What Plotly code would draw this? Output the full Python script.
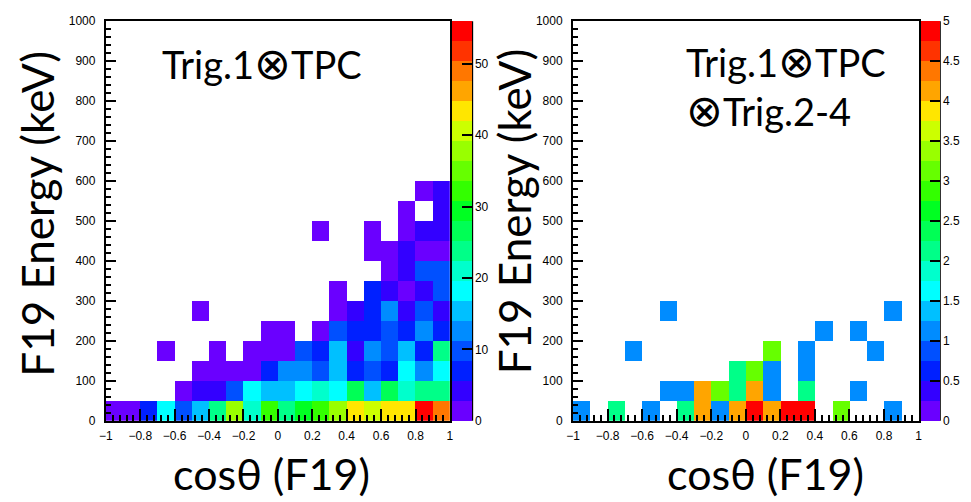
import numpy as np
import plotly.graph_objects as go

W, H = 971, 502

# ---------------- data ----------------
cos_edges = np.linspace(-1.0, 1.0, 21)        # 20 bins of 0.1
energy_edges = np.linspace(0.0, 1000.0, 21)    # 20 bins of 50 keV

# rows = energy bins (0-50, 50-100, ...), columns = cos bins (-1..-0.9, ...)
counts_trig1_tpc = [
    [1, 1, 7, 18, 10, 15, 24, 38, 21, 32, 24, 29, 32, 38, 43, 40, 43, 43, 55, 49],
    [0, 0, 0, 0, 1, 4, 4, 10, 18, 15, 15, 18, 21, 18, 26, 15, 26, 21, 24, 24],
    [0, 0, 0, 0, 0, 1, 1, 1, 1, 7, 13, 13, 10, 15, 7, 10, 7, 18, 13, 18],
    [0, 0, 0, 1, 0, 0, 1, 0, 1, 1, 1, 10, 7, 15, 4, 13, 10, 15, 7, 24],
    [0, 0, 0, 0, 0, 0, 0, 0, 0, 1, 1, 0, 1, 10, 7, 7, 10, 7, 13, 7],
    [0, 0, 0, 0, 0, 1, 0, 0, 0, 0, 0, 0, 0, 1, 4, 7, 13, 4, 10, 4],
    [0, 0, 0, 0, 0, 0, 0, 0, 0, 0, 0, 0, 0, 1, 0, 7, 4, 1, 4, 10],
    [0, 0, 0, 0, 0, 0, 0, 0, 0, 0, 0, 0, 0, 0, 0, 0, 1, 4, 10, 10],
    [0, 0, 0, 0, 0, 0, 0, 0, 0, 0, 0, 0, 0, 0, 0, 1, 1, 4, 1, 1],
    [0, 0, 0, 0, 0, 0, 0, 0, 0, 0, 0, 0, 1, 0, 0, 1, 0, 1, 4, 4],
    [0, 0, 0, 0, 0, 0, 0, 0, 0, 0, 0, 0, 0, 0, 0, 0, 0, 1, 0, 4],
    [0, 0, 0, 0, 0, 0, 0, 0, 0, 0, 0, 0, 0, 0, 0, 0, 0, 0, 1, 4],
] + [[0] * 20 for _ in range(8)]

counts_trig1_tpc_trig24 = [
    [1, 0, 2, 0, 1, 0, 2, 4, 1, 4, 5, 4, 5, 5, 0, 3, 0, 0, 1, 0],
    [0, 0, 0, 0, 0, 1, 1, 4, 3, 2, 4, 1, 0, 2, 0, 0, 1, 0, 0, 0],
    [0, 0, 0, 0, 0, 0, 0, 0, 0, 2, 3, 1, 0, 1, 0, 0, 0, 0, 0, 0],
    [0, 0, 0, 1, 0, 0, 0, 0, 0, 0, 0, 3, 0, 1, 0, 0, 0, 1, 0, 0],
    [0, 0, 0, 0, 0, 0, 0, 0, 0, 0, 0, 0, 0, 0, 1, 0, 1, 0, 0, 0],
    [0, 0, 0, 0, 0, 1, 0, 0, 0, 0, 0, 0, 0, 0, 0, 0, 0, 0, 1, 0],
] + [[0] * 20 for _ in range(14)]

x_ticks = [-1, -0.8, -0.6, -0.4, -0.2, 0, 0.2, 0.4, 0.6, 0.8, 1]
x_tick_labels = ["\u22121", "\u22120.8", "\u22120.6", "\u22120.4", "\u22120.2",
                 "0", "0.2", "0.4", "0.6", "0.8", "1"]
y_ticks = [0, 100, 200, 300, 400, 500, 600, 700, 800, 900, 1000]
y_tick_labels = [str(v) for v in y_ticks]
cbar1_ticks = [0, 10, 20, 30, 40, 50]
cbar2_ticks = [0, 0.5, 1, 1.5, 2, 2.5, 3, 3.5, 4, 4.5, 5]
cbar2_labels = ["0", "0.5", "1", "1.5", "2", "2.5", "3", "3.5", "4", "4.5", "5"]
zmax1, zmax2 = 56, 5

palette = ["#6A00FF", "#3300FF", "#0020FF", "#0050FF", "#008CFF",
           "#00C0FF", "#00FFFF", "#00FFCC", "#00FF88", "#00FF55",
           "#00FF22", "#33FF00", "#66FF00", "#99FF00", "#CCFF00",
           "#FFE600", "#FFA500", "#FF7700", "#FF3300", "#FF0000"]


def step_scale(colors):
    n = len(colors)
    eps = 1e-6
    cs = []
    for i, c in enumerate(colors):
        lo = i / n
        hi = (i + 1) / n - eps if i < n - 1 else 1.0
        cs.append([lo, c])
        cs.append([hi, c])
    return cs


def mask(rows):
    return [[v if v > 0 else None for v in r] for r in rows]


xc = (cos_edges[:-1] + cos_edges[1:]) / 2
yc = (energy_edges[:-1] + energy_edges[1:]) / 2

# ---------------- layout geometry ----------------
X1 = [100 / W, 448 / W]
X2 = [572.5 / W, 922 / W]
Y0, Y1 = 1 - 425.7 / H, 1 - 14.6 / H

tickfont = dict(family="Liberation Sans, Arial, sans-serif", size=12, color="black")


def cbar(x, thick, vals, texts):
    return dict(x=x, xanchor="left", y=Y0, yanchor="bottom", len=Y1 - Y0,
                lenmode="fraction", thickness=thick, thicknessmode="pixels",
                xpad=0, ypad=0, outlinewidth=0, ticks="inside", ticklen=10,
                tickwidth=2, tickcolor="black", tickvals=vals, ticktext=texts,
                tickfont=tickfont)


fig = go.Figure()
fig.add_trace(go.Heatmap(
    x=xc, y=yc, z=mask(counts_trig1_tpc), zmin=0, zmax=zmax1,
    colorscale=step_scale(palette), hoverinfo="skip", xaxis="x", yaxis="y",
    colorbar=cbar(450 / W, 20, cbar1_ticks, [str(v) for v in cbar1_ticks])))
fig.add_trace(go.Heatmap(
    x=xc, y=yc, z=mask(counts_trig1_tpc_trig24), zmin=0, zmax=zmax2,
    colorscale=step_scale(palette), hoverinfo="skip", xaxis="x2", yaxis="y2",
    colorbar=cbar(924 / W, 19, cbar2_ticks, cbar2_labels)))


def xax(domain, anchor):
    return dict(domain=domain, anchor=anchor, range=[-1, 1], showgrid=False,
                zeroline=False, showline=True, linecolor="black", linewidth=2,
                mirror=True, ticks="inside", ticklen=12, tickwidth=2,
                tickcolor="black", tickmode="array", tickvals=x_ticks,
                ticktext=x_tick_labels, tickfont=tickfont, ticklabelstandoff=3,
                minor=dict(ticks="inside", ticklen=6, tickwidth=1.5,
                           tickcolor="black", dtick=0.04, tick0=-1, showgrid=False))


def yax(anchor):
    return dict(domain=[Y0, Y1], anchor=anchor, range=[0, 1000], showgrid=False,
                zeroline=False, showline=True, linecolor="black", linewidth=2,
                mirror=True, ticks="inside", ticklen=10, tickwidth=2,
                tickcolor="black", tickmode="array", tickvals=y_ticks,
                ticktext=y_tick_labels, tickfont=tickfont, ticklabelstandoff=6,
                minor=dict(ticks="inside", ticklen=5, tickwidth=1.5,
                           tickcolor="black", dtick=20, tick0=0, showgrid=False))


big = dict(family="Lato, Carlito, 'Open Sans', sans-serif", color="black")
OTIMES = ('<span style="font-family:\'DejaVu Sans\';font-weight:200;'
          'font-size:44px">\u2297</span>')

annotations = [
    dict(text="F19 Energy (keV)", x=30 / W, y=1 - 213 / H, textangle=-90,
         font=dict(size=44, **big)),
    dict(text="F19 Energy (keV)", x=513 / W, y=1 - 210 / H, textangle=-90,
         font=dict(size=44, **big)),
    dict(text="cos\u03b8 (F19)", x=268 / W, y=1 - 480 / H, font=dict(size=43, **big)),
    dict(text="cos\u03b8 (F19)", x=767 / W, y=1 - 480 / H, font=dict(size=43, **big)),
    dict(text="Trig.1" + OTIMES + "TPC", x=155 / W, y=1 - 58 / H, xanchor="left",
         font=dict(size=38, **big)),
    dict(text="Trig.1" + OTIMES + "TPC<br>" + OTIMES + "Trig.2-4",
         x=685 / W, y=1 - 81 / H, xanchor="left", align="left",
         font=dict(size=38, **big)),
]
for a in annotations:
    a.update(xref="paper", yref="paper", showarrow=False)
    a.setdefault("xanchor", "center")
    a.setdefault("yanchor", "middle")

shapes = [dict(type="line", xref="paper", yref="paper", x0=xx, x1=xx, y0=Y0, y1=Y1,
               line=dict(color="black", width=2)) for xx in (470.5 / W, 943.5 / W)]

fig.update_layout(
    width=W, height=H, margin=dict(l=0, r=0, t=0, b=0),
    paper_bgcolor="white", plot_bgcolor="white",
    xaxis=xax(X1, "y"), yaxis=yax("x"),
    xaxis2=xax(X2, "y2"), yaxis2=yax("x2"),
    annotations=annotations, shapes=shapes, showlegend=False,
)

fig.write_html("out.html")
